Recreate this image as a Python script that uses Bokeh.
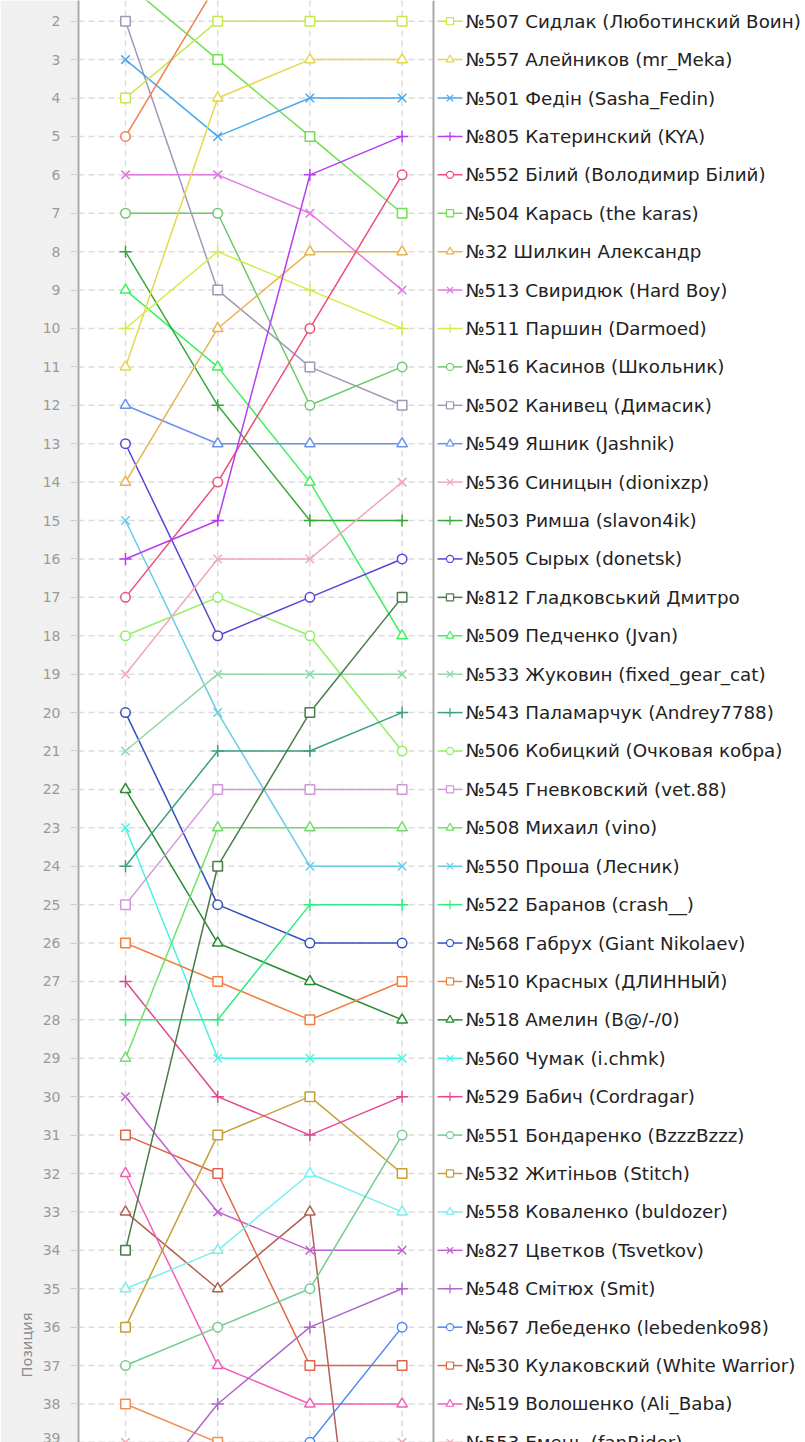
import math
from bokeh.plotting import figure
from bokeh.models import Range1d, FixedTicker, Title, ColumnDataSource
from bokeh.embed import file_html
from bokeh.resources import INLINE
from bokeh.core.properties import value

# ---------------- data ----------------
stages = [1, 2, 3, 4]

names = [
    "", "№507 Сидлак (Люботинский Воин)", "№557 Алейников (mr_Meka)", "№501 Федін (Sasha_Fedin)",
    "№805 Катеринский (KYA)", "№552 Білий (Володимир Білий)", "№504 Карась (the karas)",
    "№32 Шилкин Александр", "№513 Свиридюк (Hard Boy)", "№511 Паршин (Darmoed)",
    "№516 Касинов (Школьник)", "№502 Канивец (Димасик)", "№549 Яшник (Jashnik)",
    "№536 Синицын (dionixzp)", "№503 Римша (slavon4ik)", "№505 Сырых (donetsk)",
    "№812 Гладковський Дмитро", "№509 Педченко (Jvan)", "№533 Жуковин (fixed_gear_cat)",
    "№543 Паламарчук (Andrey7788)", "№506 Кобицкий (Очковая кобра)", "№545 Гневковский (vet.88)",
    "№508 Михаил (vino)", "№550 Проша (Лесник)", "№522 Баранов (crash__)",
    "№568 Габрух (Giant Nikolaev)", "№510 Красных (ДЛИННЫЙ)", "№518 Амелин (B@/-/0)",
    "№560 Чумак (i.chmk)", "№529 Бабич (Cordragar)", "№551 Бондаренко (BzzzBzzz)",
    "№532 Житіньов (Stitch)", "№558 Коваленко (buldozer)", "№827 Цветков (Tsvetkov)",
    "№548 Смітюх (Smit)", "№567 Лебеденко (lebedenko98)", "№530 Кулаковский (White Warrior)",
    "№519 Волошенко (Ali_Baba)", "№553 Емець (fanRider)", "", "",
]

markers = [
    "circle", "square", "triangle", "x", "cross", "circle", "square", "triangle", "x", "cross",
    "circle", "square", "triangle", "x", "cross", "circle", "square", "triangle", "x", "cross",
    "circle", "square", "triangle", "x", "cross", "circle", "square", "triangle", "x", "cross",
    "circle", "square", "triangle", "x", "cross", "circle", "square", "triangle", "x", "square",
    "triangle",
]

colors = [
    "#f08050", "#c5e84a", "#e6d84c", "#4aa8ec", "#b83cf0", "#ee4d78", "#6ee050", "#e8b450",
    "#e078e0", "#d4ec4a", "#6cc86c", "#a496b8", "#6a90f0", "#f0a8b8", "#38a838", "#5844d4",
    "#4a7a4a", "#40f060", "#90d8a8", "#3ca080", "#90f060", "#d098d8", "#70e068", "#68cce8",
    "#30ec80", "#3450c0", "#f08040", "#288c34", "#48f4e4", "#e04890", "#70cc90", "#c4a038",
    "#78f0f0", "#c060d0", "#b068c8", "#4888f0", "#e06448", "#f060b8", "#f0a8b8", "#f09050",
    "#b06050",
]

stage1 = [5, 4, 11, 3, 16, 17, 1, 14, 6, 10, 7, 2, 12, 19, 8, 13, 34, 9, 21, 24, 18,
          25, 29, 15, 28, 20, 26, 22, 23, 27, 37, 36, 35, 30, 41, 42, 31, 32, 39, 38, 33]
stage2 = [1, 2, 4, 5, 15, 14, 3, 10, 6, 8, 7, 9, 13, 16, 12, 18, 24, 11, 19, 21, 17,
          22, 23, 20, 28, 25, 27, 26, 29, 30, 36, 31, 34, 33, 38, 41, 32, 37, 40, 39, 35]
stage3 = [1, 2, 3, 4, 6, 10, 5, 8, 7, 9, 12, 11, 13, 16, 15, 17, 20, 14, 19, 21, 18,
          22, 23, 24, 25, 26, 28, 27, 29, 31, 35, 30, 32, 34, 36, 39, 37, 38, 41, 40, 33]
stage4 = [1, 2, 3, 4, 5, 6, 7, 8, 9, 10, 11, 12, 13, 14, 15, 16, 17, 18, 19, 20, 21,
          22, 23, 24, 25, 26, 27, 28, 29, 30, 31, 32, 33, 34, 35, 36, 37, 38, 39, 42, 53]

y_ticks = list(range(1, 41))
axis_title = "Позиция"

# ---------------- layout ----------------
W, H = 805, 1442
LEFT = 78
COL_PX = 92.2
COL1_PAGE = 125.0
ROW_PX = 38.41
ROW2_PAGE = 20.7

def xd(page_x):
    return 1 + (page_x - COL1_PAGE) / COL_PX

def yd(page_y):
    return 2 + (page_y - ROW2_PAGE) / ROW_PX

x_start, x_end = xd(LEFT), xd(W)
y_top, y_bottom = yd(0), yd(H)
sep_x = xd(433)

p = figure(width=W, height=H, output_backend="svg", toolbar_location=None,
           x_range=Range1d(x_start, x_end), y_range=Range1d(y_bottom, y_top),
           x_axis_location=None, min_border_left=LEFT, min_border_right=0,
           min_border_top=0, min_border_bottom=0)
p.grid.visible = False
p.outline_line_color = None
p.background_fill_color = "white"
p.border_fill_color = "#f0f0f0"

ax = p.yaxis[0]
ax.ticker = FixedTicker(ticks=y_ticks)
ax.major_label_text_font = "DejaVu Sans"
ax.major_label_text_font_size = "14px"
ax.major_label_text_color = "#9a9a9a"
ax.axis_line_color = "#ababab"
ax.axis_line_width = 2
ax.major_tick_out = 8
ax.major_tick_in = 0
ax.major_tick_line_color = "#d0d0d0"
ax.minor_tick_line_color = None
ax.major_label_standoff = 10

# axis title placed like the original (near the bottom of the visible axis)
p.add_layout(Title(text=axis_title, align="left", offset=65, standoff=10,
                   text_font="DejaVu Sans", text_font_size="14.5px",
                   text_font_style="normal", text_color="#8c8c8c"), "left")

# grid lines (dashed)
p.segment(x0=[x_start] * len(y_ticks), x1=[sep_x] * len(y_ticks), y0=y_ticks, y1=y_ticks,
          line_color="#dcdcdc", line_width=1.5, line_dash="6 4")
p.segment(x0=stages, x1=stages, y0=[y_top] * 4, y1=[y_bottom] * 4,
          line_color="#dcdcdc", line_width=1.5, line_dash="6 4")
# separator between plot and legend
p.segment(x0=[sep_x], x1=[sep_x], y0=[y_top], y1=[y_bottom], line_color="#a8a8a8", line_width=2)

# series
SIZES = {"square": 9.5, "circle": 9.5, "triangle": 10.5, "x": 12, "cross": 12}
n = len(names)
for i in reversed(range(n)):
    ys = [stage1[i], stage2[i], stage3[i], stage4[i]]
    p.line(stages, ys, line_color=colors[i], line_width=1.5)
for i in reversed(range(n)):
    ys = [stage1[i], stage2[i], stage3[i], stage4[i]]
    p.scatter(stages, ys, marker=markers[i], size=SIZES[markers[i]], line_color=colors[i],
              fill_color="white", line_width=1.5)

# legend (entries aligned with final positions)
lx0, lx1, lxm, lxt = xd(437), xd(462), xd(449.5), xd(465)
for i in range(n):
    if not names[i]:
        continue
    r = stage4[i]
    p.segment(x0=[lx0], x1=[lx1], y0=[r], y1=[r], line_color=colors[i], line_width=1.5)
    p.scatter([lxm], [r], marker=markers[i], size=SIZES[markers[i]] * 0.75, line_color=colors[i],
              fill_color="white", line_width=1.2)
src = ColumnDataSource(dict(x=[lxt] * n, y=stage4, t=names))
p.text(x="x", y="y", text="t", source=src, text_baseline="middle", text_align="left",
       text_font=value("DejaVu Sans"), text_font_size="18.3px", text_color="#222222")

open("out.html", "w").write(file_html(p, INLINE))
